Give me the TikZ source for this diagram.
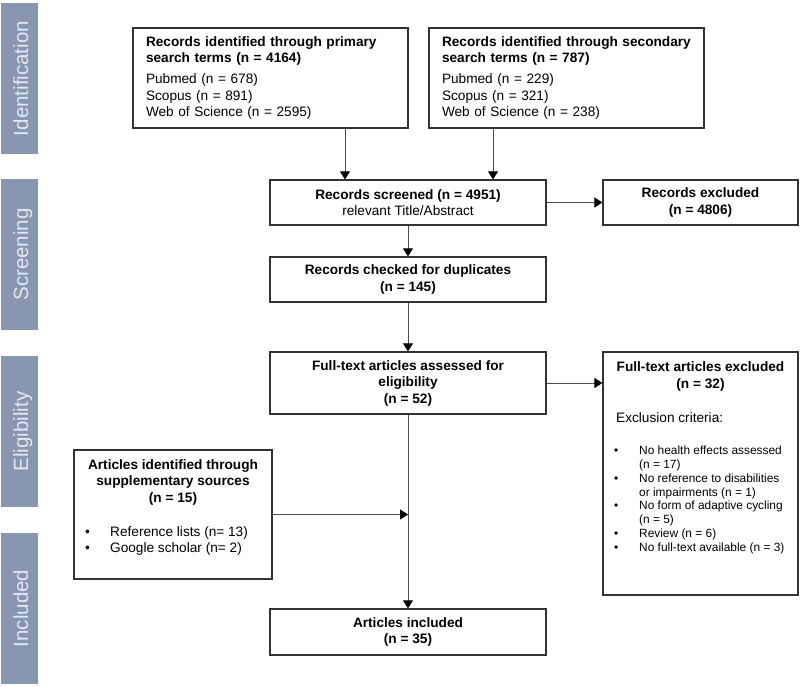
\documentclass[tikz,border=0pt]{standalone}
\usepackage{fontspec}
\setmainfont{Liberation Sans}
\usetikzlibrary{arrows.meta}
\definecolor{barcol}{HTML}{8896B0}
\definecolor{bartxt}{HTML}{E4E8EF}
\definecolor{boxline}{HTML}{333333}
\definecolor{conline}{HTML}{4D4D4D}
\begin{document}
\begin{tikzpicture}[x=1pt,y=-1pt,
  box/.style={draw=boxline, line width=1.2pt, rectangle, inner sep=0pt},
  arr/.style={draw=conline, line width=0.9pt, -{Triangle[length=8pt,width=10pt,color=black]}},
  bar/.style={fill=barcol, draw=none},
  bartext/.style={rotate=90, text=bartxt, font=\fontsize{20.5}{24}\selectfont, text height=15pt, text depth=0pt, inner sep=0pt},
  main/.style={font=\fontsize{13.65}{16.5}\selectfont},
  small/.style={font=\fontsize{11.9}{13.9}\selectfont},
]
\useasboundingbox (0,0) rectangle (800,687);
\fill[white] (0,0) rectangle (800,687);

% side bars
\fill[bar] (1,3) rectangle (38,154);
\fill[bar] (1,179) rectangle (38,330);
\fill[bar] (1,356) rectangle (38,507);
\fill[bar] (1,533) rectangle (38,684);
\node[bartext] (lid) at (20.5,78.5) {Identification};
\node[bartext] (lsc) at (20.5,254.5) {Screening};
\node[bartext] (lel) at (20.5,431.5) {Eligibility};
\node[bartext] (lin) at (20.5,608.5) {Included};

% identification boxes
\node[box, main, minimum width=275pt, minimum height=100pt, align=left, text width=249pt] (p1) at (270.5,78)
  {\textbf{Records identified through primary}\\\textbf{search terms (n = 4164)}\\[4.5pt]Pubmed (n = 678)\\Scopus (n = 891)\\Web of Science (n = 2595)};
\node[box, main, minimum width=275pt, minimum height=100pt, align=left, text width=249pt] (p2) at (566.5,78)
  {\textbf{Records identified through secondary}\\\textbf{search terms (n = 787)}\\[4.5pt]Pubmed (n = 229)\\Scopus (n = 321)\\Web of Science (n = 238)};

% screening
\node[box, main, minimum width=276pt, minimum height=45pt, align=center] (scr) at (408,202.5)
  {\textbf{Records screened (n = 4951)}\\relevant Title/Abstract};
\node[box, main, minimum width=195pt, minimum height=45pt, align=center] (rex) at (700.5,202.5)
  {\textbf{Records excluded}\\\textbf{(n = 4806)}};
\node[box, main, minimum width=276pt, minimum height=45pt, align=center] (dup) at (408,279.5)
  {\textbf{Records checked for duplicates}\\\textbf{(n = 145)}};

% eligibility
\node[box, main, minimum width=276pt, minimum height=62pt, align=center] (ass) at (408,383)
  {\textbf{Full-text articles assessed for}\\\textbf{eligibility}\\\textbf{(n = 52)}};
\node[box, minimum width=195pt, minimum height=243pt] (fex) at (700.5,473.5) {};
\node[main, align=center, inner sep=0pt] (fext) at (700.5,376.5)
  {\textbf{Full-text articles excluded}\\\textbf{(n = 32)}};
\node[main, anchor=west, inner sep=0pt] (crit) at (616,418) {Exclusion criteria:};
\node[small, anchor=north west, inner sep=0pt, align=left] (flist) at (614,445.5)
  {\makebox[25pt][l]{•}No health effects assessed\\
   \hspace*{25pt}(n = 17)\\
   \makebox[25pt][l]{•}No reference to disabilities\\
   \hspace*{25pt}or impairments (n = 1)\\
   \makebox[25pt][l]{•}No form of adaptive cycling\\
   \hspace*{25pt}(n = 5)\\
   \makebox[25pt][l]{•}Review (n = 6)\\
   \makebox[25pt][l]{•}No full-text available (n = 3)};

% supplementary
\node[box, minimum width=198pt, minimum height=129pt] (supp) at (173,514.5) {};
\node[main, align=center, inner sep=0pt] (supt) at (173,482)
  {\textbf{Articles identified through}\\\textbf{supplementary sources}\\\textbf{(n = 15)}};
\node[main, anchor=north west, inner sep=0pt, align=left] (supl) at (85,526)
  {\makebox[25pt][l]{•}Reference lists (n= 13)\\
   \makebox[25pt][l]{•}Google scholar (n= 2)};

% included
\node[box, main, minimum width=276pt, minimum height=46pt, align=center] (inc) at (408,632)
  {\textbf{Articles included}\\\textbf{(n = 35)}};

% connectors
\coordinate (c1) at (345,0);
\coordinate (c2) at (493,0);
\draw[arr] (p1.south -| c1) -- (scr.north -| c1);
\draw[arr] (p2.south -| c2) -- (scr.north -| c2);
\draw[arr] (scr.east) -- (rex.west);
\draw[arr] (scr.south) -- (dup.north);
\draw[arr] (dup.south) -- (ass.north);
\draw[arr] (ass.east) -- (ass.east -| fex.west);
\draw[arr] (ass.south) -- (inc.north);
\draw[arr] (supp.east) -- (supp.east -| ass.south);
\end{tikzpicture}
\end{document}
